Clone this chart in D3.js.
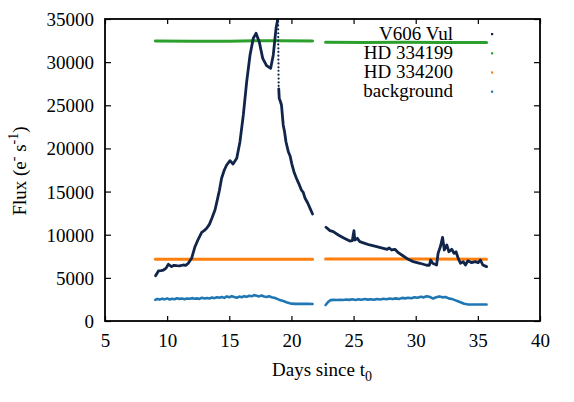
<!DOCTYPE html>
<html>
<head>
<meta charset="utf-8">
<script src="https://cdn.jsdelivr.net/npm/d3@7"></script>
<style>
body { margin: 0; background: #fff; }
svg { display: block; }
svg text { font-family: "Liberation Serif", "Times New Roman", serif !important; fill: #000; }
</style>
</head>
<body>
<svg id="chart" width="574" height="402"></svg>
<script>
"use strict";

// ticks
var xTicks = [5, 10, 15, 20, 25, 30, 35, 40];
var yTicks = [0, 5000, 10000, 15000, 20000, 25000, 30000, 35000];

// V606 Vul, first block (rise to the clipped maximum)
var vulDaysA = [9.07, 9.3, 9.5, 9.7, 9.9, 10.1, 10.36, 10.55, 10.77, 11.0, 11.3, 11.5, 11.7, 11.97,
	12.24, 12.5, 12.78, 13.0, 13.18, 13.4, 13.6, 13.85, 14.0, 14.2, 14.38, 14.6, 14.79, 15.06,
	15.3, 15.6, 15.86, 16.13, 16.4, 16.67, 16.93, 17.15, 17.41, 17.69, 18.0, 18.33, 18.54,
	18.76, 18.89, 18.92];
var vulFluxA = [5250, 5800, 5850, 5910, 6100, 6570, 6300, 6450, 6410, 6380, 6490, 6450, 6690, 7270,
	8610, 9470, 10280, 10500, 10740, 11200, 11900, 12860, 13800, 15100, 16540, 17500, 18080, 18580,
	18200, 18860, 20780, 23880, 27740, 30830, 32770, 33340, 32370, 30440, 29590, 29290, 30830,
	33920, 34900, 37500];
// V606 Vul, sparse points of the fast drop
var vulDaysDrop = [18.93, 18.93, 18.93, 18.94, 18.94, 18.94, 18.94, 18.95, 18.95, 18.95, 18.95,
	18.96, 18.96, 18.96, 18.96, 18.97, 18.97, 18.97];
var vulFluxDrop = [34700, 34250, 33800, 33350, 32900, 32500, 32050, 31600, 31200, 30750, 30300,
	29850, 29400, 29000, 28550, 28100, 27650, 27250];
// V606 Vul, decline to the gap
var vulDaysB = [18.98, 19.02, 19.1, 19.2, 19.34, 19.45, 19.56, 19.75, 19.9, 20.02, 20.2, 20.4,
	20.6, 20.8, 20.95, 21.1, 21.3, 21.5, 21.7];
var vulFluxB = [26900, 25800, 25500, 25030, 22720, 21900, 20780, 19620, 19100, 18270, 17300, 16540,
	15900, 15180, 14900, 14220, 13700, 13060, 12400];
// V606 Vul, after the gap
var vulDaysC = [22.78, 23.1, 23.37, 23.77, 24.17, 24.7, 24.9, 25.03, 25.1, 25.3, 25.5, 25.9, 26.3,
	26.86, 27.4, 27.7, 27.87, 28.06, 28.33, 28.6, 29.0, 29.4, 29.8, 30.34, 30.88, 31.1, 31.2,
	31.36, 31.68, 31.8, 32.0, 32.16, 32.3, 32.5, 32.67, 32.9, 33.08, 33.24, 33.42, 33.6, 33.83,
	34.0, 34.2, 34.5, 34.77, 35.03, 35.2, 35.4, 35.7];
var vulFluxC = [10860, 10470, 10350, 9970, 9660, 9270, 9310, 10470, 9390, 9580, 9190, 9000, 8810,
	8610, 8420, 8310, 8460, 8230, 8310, 7920, 7530, 7150, 6880, 6690, 6460, 6460, 7070,
	6690, 6490, 7840, 8690, 9700, 8230, 8810, 8030, 8310, 7840, 8030, 7260, 6690, 6880,
	6490, 6990, 6760, 6880, 6760, 7070, 6490, 6300];

// HD 334199
var hd199DaysA = [9.05, 12.0, 15.0, 17.0, 19.0, 21.7];
var hd199FluxA = [32440, 32420, 32430, 32480, 32470, 32460];
var hd199DaysB = [22.75, 26.0, 29.0, 32.0, 35.7];
var hd199FluxB = [32300, 32290, 32300, 32280, 32280];

// HD 334200
var hd200DaysA = [9.05, 13.0, 17.0, 21.7];
var hd200FluxA = [7170, 7160, 7160, 7150];
var hd200DaysB = [22.75, 27.0, 31.0, 35.7];
var hd200FluxB = [7190, 7180, 7180, 7170];

// background
var bgDaysA = [9.05, 9.2, 9.4, 9.6, 9.8, 10.0, 10.2, 10.4, 10.6, 10.8, 11.0, 11.2, 11.4, 11.6,
	11.8, 12.0, 12.2, 12.4, 12.6, 12.8, 13.0, 13.2, 13.4, 13.6, 13.8, 14.0, 14.2, 14.4, 14.6,
	14.8, 15.0, 15.2, 15.4, 15.6, 15.8, 16.0, 16.2, 16.4, 16.6, 16.8, 17.0, 17.2, 17.4, 17.6,
	17.8, 18.0, 18.2, 18.4, 18.6, 18.8, 19.0, 19.2, 19.4, 19.6, 19.8, 20.0, 20.3, 20.7, 21.0,
	21.4, 21.7];
var bgFluxA = [2450, 2560, 2480, 2590, 2510, 2620, 2500, 2580, 2530, 2640, 2560, 2600, 2520, 2610,
	2570, 2650, 2580, 2620, 2560, 2690, 2610, 2660, 2600, 2730, 2650, 2760, 2700, 2780, 2680,
	2850, 2760, 2880, 2790, 2700, 2830, 2760, 2880, 2800, 2920, 2860, 3000, 2930, 2850, 2960,
	2840, 2790, 2880, 2760, 2690, 2600, 2470, 2380, 2290, 2180, 2080, 2010, 1990, 1980, 1990,
	1980, 1970];
var bgDaysB = [22.75, 22.95, 23.15, 23.4, 23.65, 23.9, 24.15, 24.4, 24.65, 24.9, 25.15, 25.4,
	25.65, 25.9, 26.15, 26.4, 26.65, 26.9, 27.15, 27.4, 27.65, 27.9, 28.15, 28.4, 28.65, 28.9,
	29.15, 29.4, 29.65, 29.9, 30.15, 30.4, 30.65, 30.9, 31.15, 31.4, 31.65, 31.9, 32.15, 32.4,
	32.65, 32.9, 33.15, 33.4, 33.65, 33.9, 34.15, 34.5, 34.9, 35.3, 35.7];
var bgFluxB = [1850, 2200, 2420, 2450, 2430, 2470, 2440, 2500, 2450, 2520, 2430, 2510, 2470, 2540,
	2480, 2530, 2460, 2550, 2500, 2570, 2520, 2600, 2540, 2620, 2560, 2680, 2620, 2700, 2640,
	2760, 2700, 2800, 2740, 2860, 2780, 2600, 2750, 2850, 2740, 2780, 2620, 2560, 2420, 2280,
	2140, 2000, 1930, 1910, 1920, 1910, 1920];

var legendNames = ["V606 Vul", "HD 334199", "HD 334200", "background"];
var legendColors = ["#11254a", "#2ca02c", "#ff7f0e", "#1f77b4"];

var svg = d3.select("#chart");
var padLeft = 105, padRight = 540, padTop = 19, padBottom = 321;

var x = d3.scaleLinear().domain([5, 40]).range([padLeft, padRight]);
var y = d3.scaleLinear().domain([0, 35000]).range([padBottom, padTop]);

svg.append("clipPath").attr("id", "plotclip")
	.append("rect")
	.attr("x", padLeft).attr("y", padTop)
	.attr("width", padRight - padLeft).attr("height", padBottom - padTop);

function pairs(days, flux) {
	var out = [];
	var i;
	for (i = 0; i < days.length; i++) {
		out.push([days[i], flux[i]]);
	}
	return out;
}

var line = d3.line()
	.x(function(d) { return x(d[0]); })
	.y(function(d) { return y(d[1]); });

var plot = svg.append("g").attr("clip-path", "url(#plotclip)");

function drawSeries(days, flux, color, width) {
	plot.append("path")
		.datum(pairs(days, flux))
		.attr("d", line)
		.attr("fill", "none")
		.attr("stroke", color)
		.attr("stroke-width", width)
		.attr("stroke-linejoin", "round")
		.attr("stroke-linecap", "round");
}

drawSeries(bgDaysA, bgFluxA, legendColors[3], 2.6);
drawSeries(bgDaysB, bgFluxB, legendColors[3], 2.6);
drawSeries(hd200DaysA, hd200FluxA, legendColors[2], 3);
drawSeries(hd200DaysB, hd200FluxB, legendColors[2], 3);
drawSeries(hd199DaysA, hd199FluxA, legendColors[1], 3);
drawSeries(hd199DaysB, hd199FluxB, legendColors[1], 3);
drawSeries(vulDaysA, vulFluxA, legendColors[0], 2.8);
drawSeries(vulDaysB, vulFluxB, legendColors[0], 2.8);
drawSeries(vulDaysC, vulFluxC, legendColors[0], 2.8);

plot.selectAll("circle.drop")
	.data(pairs(vulDaysDrop, vulFluxDrop))
	.enter().append("circle")
	.attr("class", "drop")
	.attr("cx", function(d) { return x(d[0]); })
	.attr("cy", function(d) { return y(d[1]); })
	.attr("r", 1.1)
	.attr("fill", legendColors[0]);

// inward ticks on all four sides
function styleAxis(g) {
	g.attr("font-family", null).attr("font-size", null);
	g.select(".domain").remove();
	g.selectAll(".tick line").attr("stroke", "#000").attr("stroke-width", 1.2);
	g.selectAll(".tick text")
		.style("font-family", "'Liberation Serif', 'Times New Roman', serif")
		.style("font-size", "19px")
		.attr("fill", "#000");
}

svg.append("g")
	.attr("transform", "translate(0," + padBottom + ")")
	.call(d3.axisBottom(x).tickValues(xTicks).tickSizeInner(-5).tickSizeOuter(0).tickFormat(d3.format("d")))
	.call(styleAxis)
	.selectAll(".tick text").attr("dy", 0).attr("y", 25.5);

svg.append("g")
	.attr("transform", "translate(0," + padTop + ")")
	.call(d3.axisTop(x).tickValues(xTicks).tickSizeInner(-5).tickSizeOuter(0).tickFormat(""))
	.call(styleAxis);

svg.append("g")
	.attr("transform", "translate(" + padLeft + ",0)")
	.call(d3.axisLeft(y).tickValues(yTicks).tickSizeInner(-6).tickSizeOuter(0).tickFormat(d3.format("d")))
	.call(styleAxis)
	.selectAll(".tick text").attr("x", -11).attr("dy", "0.34em");

svg.append("g")
	.attr("transform", "translate(" + padRight + ",0)")
	.call(d3.axisRight(y).tickValues(yTicks).tickSizeInner(-6).tickSizeOuter(0).tickFormat(""))
	.call(styleAxis);

svg.append("rect")
	.attr("x", padLeft).attr("y", padTop)
	.attr("width", padRight - padLeft).attr("height", padBottom - padTop)
	.attr("fill", "none")
	.attr("stroke", "#000")
	.attr("stroke-width", 1.8);

// legend
var legend = svg.append("g");
legendNames.forEach(function(name, i) {
	legend.append("text")
		.attr("x", 453)
		.attr("y", 40 + i * 19)
		.attr("text-anchor", "end")
		.attr("font-size", 19)
		.text(name);
	legend.append("rect")
		.attr("x", 491)
		.attr("y", 33 + i * 19.2)
		.attr("width", 2.2)
		.attr("height", 2.2)
		.attr("fill", legendColors[i]);
});

// axis titles
var xt = svg.append("text")
	.attr("x", 322)
	.attr("y", 376)
	.attr("text-anchor", "middle")
	.attr("font-size", 19);
xt.append("tspan").text("Days since t");
xt.append("tspan").attr("font-size", 14).attr("dy", 5).text("0");

var yt = svg.append("text")
	.attr("transform", "translate(26,171) rotate(-90)")
	.attr("text-anchor", "middle")
	.attr("font-size", 19);
yt.append("tspan").text("Flux (e");
yt.append("tspan").attr("font-size", 14).attr("dy", -8).text("-");
yt.append("tspan").attr("dy", 8).text(" s");
yt.append("tspan").attr("font-size", 14).attr("dy", -8).text("-1");
yt.append("tspan").attr("dy", 8).text(")");
</script>
</body>
</html>
